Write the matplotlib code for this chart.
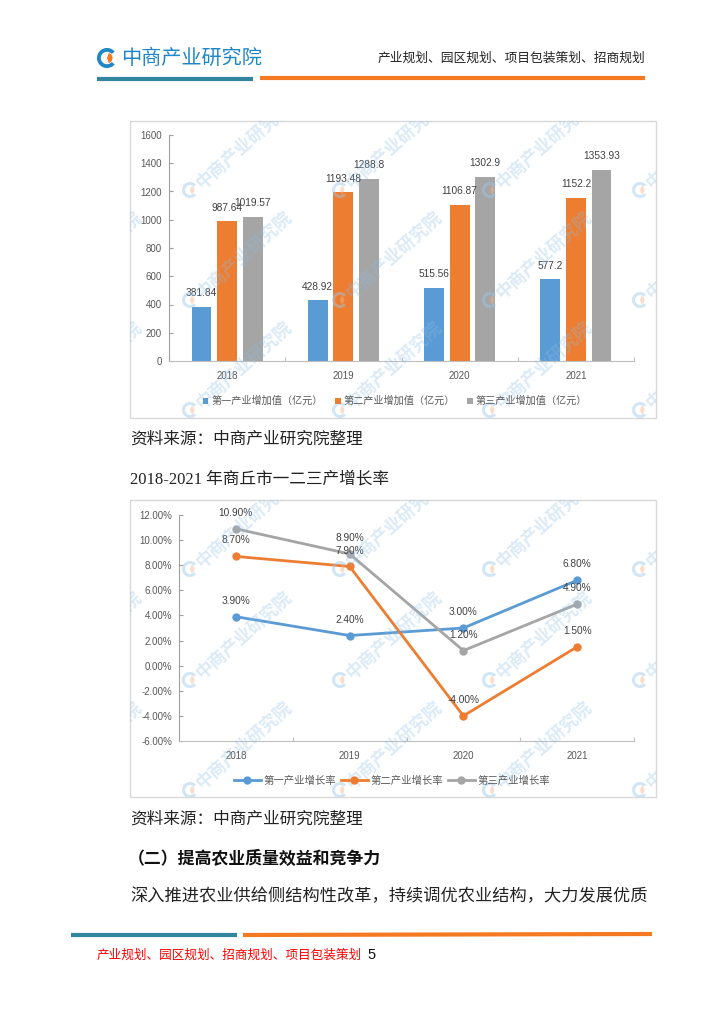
import matplotlib
matplotlib.use('Agg')
import matplotlib.pyplot as plt
import numpy as np
from matplotlib.patches import Rectangle, Wedge
from matplotlib.lines import Line2D

# ---------------- data ----------------
years = ['2018', '2019', '2020', '2021']
value_series_names = ['第一产业增加值（亿元）', '第二产业增加值（亿元）', '第三产业增加值（亿元）']
primary_value = [381.84, 428.92, 515.56, 577.2]
secondary_value = [987.64, 1193.48, 1106.87, 1152.2]
tertiary_value = [1019.57, 1288.8, 1302.9, 1353.93]
value_yticks = [0, 200, 400, 600, 800, 1000, 1200, 1400, 1600]

rate_series_names = ['第一产业增长率', '第二产业增长率', '第三产业增长率']
primary_rate = [3.9, 2.4, 3.0, 6.8]
secondary_rate = [8.7, 7.9, -4.0, 1.5]
tertiary_rate = [10.9, 8.9, 1.2, 4.9]
rate_yticks = [-6, -4, -2, 0, 2, 4, 6, 8, 10, 12]

series_colors = ['#5B9BD5', '#ED7D31', '#A5A5A5']

header_right = '产业规划、园区规划、项目包装策划、招商规划'
logo_text = '中商产业研究院'
source_text = '资料来源：中商产业研究院整理'
chart2_title = '2018-2021 年商丘市一二三产增长率'
heading_text = '（二）提高农业质量效益和竞争力'
body_text = '深入推进农业供给侧结构性改革，持续调优农业结构，大力发展优质'
footer_text = '产业规划、园区规划、招商规划、项目包装策划'
page_no = '5'
watermark_text = '中商产业研究院'

# ---------------- setup ----------------
W, H = 724, 1024
fig = plt.figure(figsize=(7.24, 10.24), dpi=100)
fig.patch.set_facecolor('white')

CJK = ['Noto Sans CJK SC', 'DejaVu Sans']
SERIF = ['Liberation Serif', 'Noto Sans CJK SC']
NUM = ['Liberation Sans', 'Noto Sans CJK SC']
AXGRAY = '#BFBFBF'
TXTGRAY = '#595959'


def rect(l, t, r, b):
    return [l / W, 1 - b / H, (r - l) / W, (b - t) / H]


bg = fig.add_axes([0, 0, 1, 1], zorder=0)
bg.set_xlim(0, W)
bg.set_ylim(H, 0)
bg.axis('off')

# header
def logo(axis, cx, cy, r, blue, orange, alpha=1.0, lw=3.0):
    axis.add_patch(Wedge((cx, cy), r, 40, 320, width=r * 0.38, facecolor=blue,
                         edgecolor='none', alpha=alpha, clip_on=True))
    axis.add_patch(Wedge((cx, cy), r * 0.55, -70, 70, facecolor=orange,
                         edgecolor='none', alpha=alpha, clip_on=True))

logo(bg, 107, 58, 10, '#1F86C8', '#F47920')
bg.text(121, 58, logo_text, family=CJK, fontsize=14.5, color='#1F86C8',
        va='center', ha='left')
bg.text(645, 58, header_right, family=CJK, fontsize=9.2, color='#222222',
        va='center', ha='right')
bg.plot([97, 253], [79, 79], color='#31859C', lw=3, solid_capstyle='butt')
bg.plot([260, 645], [78, 78], color='#F47920', lw=3, solid_capstyle='butt')

# frames
for (l, t, r, b) in [(130, 121, 656, 418), (130, 500, 656, 797)]:
    bg.add_patch(Rectangle((l, t), r - l, b - t, facecolor='white',
                           edgecolor='#D9D9D9', lw=1.0))

# text blocks
bg.text(130, 440, source_text, family=SERIF, fontsize=12, color='#222222',
        va='center', ha='left')
bg.text(130, 480, chart2_title, family=SERIF, fontsize=12, color='#222222',
        va='center', ha='left')
bg.text(130, 820, source_text, family=SERIF, fontsize=12, color='#222222',
        va='center', ha='left')
bg.text(128, 859, heading_text, family=SERIF, fontsize=12.2, color='#111111',
        va='center', ha='left', fontweight='bold')
bg.text(130, 897, body_text, family=SERIF, fontsize=12.4, color='#222222',
        va='center', ha='left')

# footer
bg.plot([71, 237], [935, 935], color='#31859C', lw=3, solid_capstyle='butt')
bg.plot([243, 652], [935, 934], color='#F47920', lw=3, solid_capstyle='butt')
ft = bg.text(97, 955, footer_text, family=CJK, fontsize=9.1, color='#FF0000',
             va='center', ha='left')
bg.text(367, 955, page_no, family=['Liberation Sans'], fontsize=10.5,
        color='#111111', va='center', ha='left')

# ---------------- chart 1: bars ----------------
ax1 = fig.add_axes(rect(169, 135, 634, 361), zorder=2)
ax1.set_facecolor('none')
x = np.arange(len(years))
value_series = [primary_value, secondary_value, tertiary_value]
offsets = [-0.22, 0.0, 0.22]
for vals, off, col, name in zip(value_series, offsets, series_colors, value_series_names):
    ax1.bar(x + off, vals, width=0.17, color=col, label=name, zorder=2)
    for xi, v in zip(x, vals):
        ax1.annotate(f'{v:g}', (xi + off, v), xytext=(0, 10), textcoords='offset points',
                     ha='center', va='center', fontsize=7.3, family=NUM,
                     color='#404040', zorder=3)
ax1.set_xlim(-0.5, len(years) - 0.5)
ax1.set_ylim(value_yticks[0], value_yticks[-1])
ax1.set_yticks(value_yticks)
ax1.set_yticklabels([str(t) for t in value_yticks], family=NUM, fontsize=7, color=TXTGRAY)
ax1.set_xticks(np.arange(-0.5, len(years), 1.0))
ax1.set_xticklabels([])
ax1.set_xticks(x, minor=True)
ax1.set_xticklabels(years, minor=True, family=NUM, fontsize=7, color=TXTGRAY)
ax1.tick_params(axis='x', which='minor', length=0, pad=7)
ax1.tick_params(axis='x', which='major', direction='in', length=3, color=AXGRAY)
ax1.tick_params(axis='y', direction='in', length=3, color='#A0A0A0', pad=5)
for s in ['top', 'right']:
    ax1.spines[s].set_visible(False)
ax1.spines['left'].set_color('#A0A0A0')
ax1.spines['bottom'].set_color(AXGRAY)
for s in ['left', 'bottom']:
    ax1.spines[s].set_linewidth(0.8)

h1, l1 = ax1.get_legend_handles_labels()
fig.legend(h1, l1, loc='center', bbox_to_anchor=(395 / W, 1 - 401 / H), ncol=3,
           frameon=False, prop={'family': CJK, 'size': 7.3}, labelcolor=TXTGRAY,
           handlelength=0.55, handleheight=0.55, handletextpad=0.3, columnspacing=1.2)

# ---------------- chart 2: lines ----------------
ax2 = fig.add_axes(rect(179, 515, 634, 741), zorder=2)
ax2.set_facecolor('none')
rate_series = [primary_rate, secondary_rate, tertiary_rate]
for vals, col, name in zip(rate_series, series_colors, rate_series_names):
    ax2.plot(x, vals, color=col, lw=2.0, marker='o', markersize=5, label=name, zorder=2)
for vals in rate_series:
    for xi, v in zip(x, vals):
        ax2.annotate(f'{v:.2f}%', (xi, v), xytext=(0, 11.5), textcoords='offset points',
                     ha='center', va='center', fontsize=7.3, family=NUM,
                     color='#404040', zorder=3)
ax2.set_xlim(-0.5, len(years) - 0.5)
ax2.set_ylim(rate_yticks[0], rate_yticks[-1])
ax2.set_yticks(rate_yticks)
ax2.set_yticklabels([f'{t:.2f}%' for t in rate_yticks], family=NUM, fontsize=7, color=TXTGRAY)
ax2.set_xticks(np.arange(-0.5, len(years), 1.0))
ax2.set_xticklabels([])
ax2.set_xticks(x, minor=True)
ax2.set_xticklabels(years, minor=True, family=NUM, fontsize=7, color=TXTGRAY)
ax2.tick_params(axis='x', which='minor', length=0, pad=7)
ax2.tick_params(axis='x', which='major', direction='in', length=3, color=AXGRAY)
ax2.tick_params(axis='y', direction='in', length=3, color='#A0A0A0', pad=5)
for s in ['top', 'right']:
    ax2.spines[s].set_visible(False)
ax2.spines['left'].set_color('#A0A0A0')
ax2.spines['bottom'].set_color(AXGRAY)
for s in ['left', 'bottom']:
    ax2.spines[s].set_linewidth(0.8)

h2, l2 = ax2.get_legend_handles_labels()
fig.legend(h2, l2, loc='center', bbox_to_anchor=(392 / W, 1 - 781 / H), ncol=3,
           frameon=False, prop={'family': CJK, 'size': 7.5}, labelcolor=TXTGRAY,
           handlelength=2.6, handletextpad=0.3, columnspacing=0.4)

# ---------------- watermarks ----------------
wm_cols = [40, 190, 340, 490, 640]
for (l, t, r, b), rows in [((130, 121, 656, 418), [190, 300, 410]),
                           ((130, 500, 656, 797), [569, 680, 790])]:
    wax = fig.add_axes(rect(l, t, r, b), zorder=5)
    wax.set_facecolor('none')
    wax.set_xlim(l, r)
    wax.set_ylim(b, t)
    wax.axis('off')
    for cy in rows:
        for cx in wm_cols:
            logo(wax, cx, cy, 8, '#9CC7EA', '#F6B38A', alpha=0.45)
            tx = wax.text(cx + 9, cy - 4, watermark_text, family=CJK, fontsize=12.5,
                          fontweight='bold', color='#8DBDE6', alpha=0.32,
                          rotation=42, rotation_mode='anchor', ha='left',
                          va='center', clip_on=True)

fig.savefig('out.png', dpi=100, facecolor='white')
